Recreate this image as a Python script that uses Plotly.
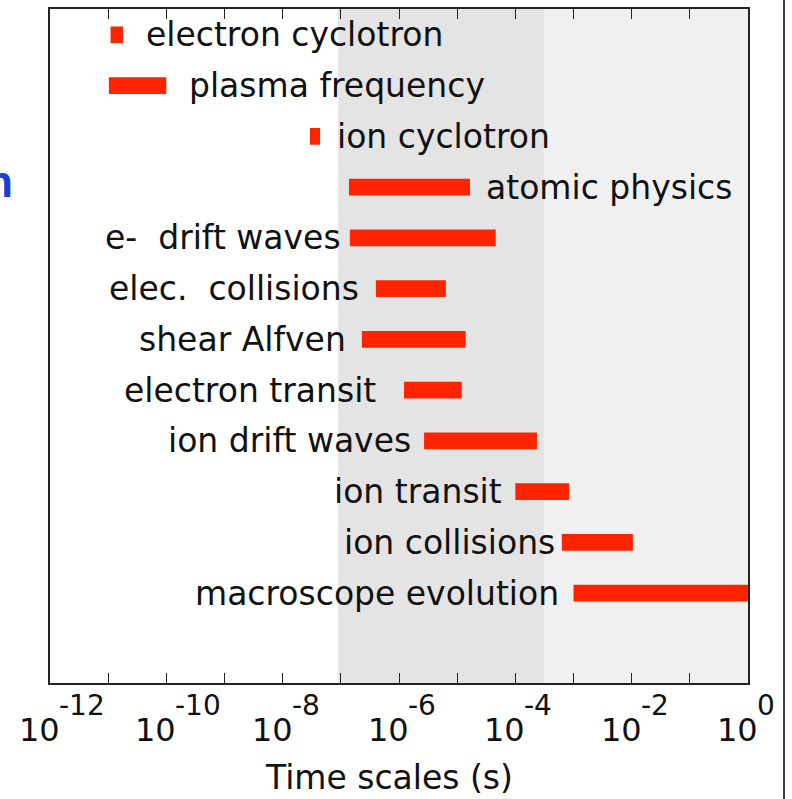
import math
import plotly.graph_objects as go

# Characteristic time scales of plasma processes (seconds)
processes = [
    "electron cyclotron", "plasma frequency", "ion cyclotron", "atomic physics",
    "e-  drift waves", "elec.  collisions", "shear Alfven", "electron transit",
    "ion drift waves", "ion transit", "ion collisions", "macroscope evolution",
]
t_start = [1.1e-11, 1.03e-11, 2.95e-8, 1.38e-7, 1.43e-7, 4.0e-7, 2.3e-7, 1.22e-6,
           2.7e-6, 1.0e-4, 6.3e-4, 1.0e-3]
t_end = [1.8e-11, 1.0e-10, 4.4e-8, 1.66e-5, 4.6e-5, 6.4e-6, 1.4e-5, 1.2e-5,
         2.35e-4, 8.4e-4, 1.05e-2, 1.0]

# Shaded time windows
band_dark = [9.0e-8, 3.1e-4]
band_light = [3.1e-4, 1.0]

# Decade exponents carrying a label on the time axis
label_exponents = [-12, -10, -8, -6, -4, -2, 0]

# Label placement: which side of the bar, and the gap in pixels
label_side = ["right", "right", "right", "right", "left", "left", "left", "left",
              "left", "left", "left", "left"]
label_gap = [22, 22, 16, 15, 8, 16, 15, 27, 12, 12, 6, 14]

rows = list(range(1, len(processes) + 1))
FONT = "DejaVu Sans"
RED = "#ff2400"
HALF = 0.165  # half bar thickness in row units

fig = go.Figure()

for (x0, x1), col in ((band_dark, "#e4e4e4"), (band_light, "#f0f0f0")):
    fig.add_trace(go.Scatter(
        x=[x0, x1, x1, x0, x0], y=[0, 0, 14, 14, 0],
        mode="none", fill="toself", fillcolor=col,
        hoverinfo="skip", showlegend=False,
    ))

# Each time range drawn as a filled rectangle on the log time axis
bx, by = [], []
for r, s, e in zip(rows, t_start, t_end):
    bx += [s, e, e, s, s, None]
    by += [r - HALF, r - HALF, r + HALF, r + HALF, r - HALF, None]
fig.add_trace(go.Scatter(
    x=bx, y=by, mode="none", fill="toself", fillcolor=RED,
    hoverinfo="skip", showlegend=False,
))

annotations = []
for name, r, s, e, side, gap in zip(processes, rows, t_start, t_end, label_side, label_gap):
    if side == "right":
        ax_x, anchor, shift = math.log10(e), "left", gap
    else:
        ax_x, anchor, shift = math.log10(s), "right", -gap
    annotations.append(dict(
        x=ax_x, y=r, xref="x", yref="y", text=name, showarrow=False,
        xanchor=anchor, yanchor="middle", xshift=shift, borderpad=0,
        font=dict(family=FONT, size=33, color="#111"),
    ))

# Tick labels written as 10 with a raised exponent
for ex in label_exponents:
    annotations.append(dict(
        x=ex, y=0, xref="x", yref="paper", text="10", showarrow=False,
        xanchor="right", yanchor="middle", xshift=11, yshift=-47, borderpad=0,
        font=dict(family=FONT, size=32, color="#111"),
    ))
    annotations.append(dict(
        x=ex, y=0, xref="x", yref="paper", text=str(ex), showarrow=False,
        xanchor="left", yanchor="middle", xshift=8, yshift=-22, borderpad=0,
        font=dict(family=FONT, size=28, color="#111"),
    ))

annotations.append(dict(
    x=0.4857, y=0, xref="paper", yref="paper", text="Time scales (s)",
    showarrow=False, xanchor="center", yanchor="middle", yshift=-94,
    font=dict(family=FONT, size=33, color="#111"),
))
annotations.append(dict(
    x=-0.0516, y=0.744, xref="paper", yref="paper", text="<b>n</b>",
    showarrow=False, xanchor="right", yanchor="middle", borderpad=0,
    font=dict(family="Liberation Sans", size=44, color="#1a3ed4"),
))

fig.update_layout(
    width=792, height=799,
    margin=dict(l=50, r=44, t=7, b=116),
    paper_bgcolor="white", plot_bgcolor="white",
    annotations=annotations,
    shapes=[dict(type="line", xref="paper", yref="paper",
                 x0=1.0516, x1=1.0516, y0=-0.18, y1=1.02,
                 line=dict(color="#000", width=1.5))],
)
fig.update_xaxes(
    type="log", range=[-12, 0], dtick=1, showticklabels=False,
    ticks="inside", ticklen=10, tickwidth=1.3, tickcolor="#222",
    showline=True, linecolor="#222", linewidth=1.6, mirror="ticks",
    showgrid=False, zeroline=False,
)
fig.update_yaxes(
    range=[13.77, 0.49], showticklabels=False, ticks="",
    showline=True, linecolor="#222", linewidth=1.6, mirror=True,
    showgrid=False, zeroline=False,
)

fig.write_html("out.html")
